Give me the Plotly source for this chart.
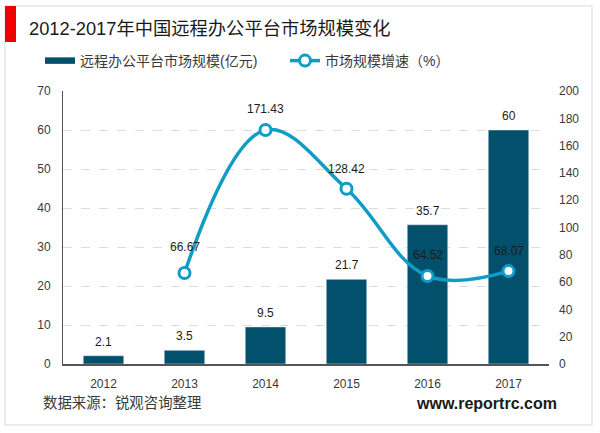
import plotly.graph_objs as go

WIDTH = 600
HEIGHT = 433
LEFT, RIGHT, TOP, BOTTOM = 63, 549, 91, 364

years = ["2012", "2013", "2014", "2015", "2016", "2017"]
scale_values = [2.1, 3.5, 9.5, 21.7, 35.7, 60]
growth_values = [None, 66.67, 171.43, 128.42, 64.52, 68.07]
scale_labels = ["2.1", "3.5", "9.5", "21.7", "35.7", "60"]
growth_labels = ["", "66.67", "171.43", "128.42", "64.52", "68.07"]
growth_label_shift = [0, 26, 21, 20, 21, 20]
left_ticks = [0, 10, 20, 30, 40, 50, 60, 70]
right_ticks = [0, 20, 40, 60, 80, 100, 120, 140, 160, 180, 200]

FONT = "Liberation Sans, Noto Sans CJK SC, sans-serif"
BAR_COLOR = "#02506b"
LINE_COLOR = "#0f9cc6"
TEXT_COLOR = "#3a3a3a"
LABEL_COLOR = "#1c1c1c"


def px(x):
    # pixel position to paper x
    return (x - LEFT) / (RIGHT - LEFT)


def py(y):
    # pixel position to paper y
    return (BOTTOM - y) / (BOTTOM - TOP)


def text_note(text, x, y, size, anchor="left", color=TEXT_COLOR):
    return dict(
        text=text,
        xref="paper",
        yref="paper",
        x=px(x),
        y=py(y),
        xanchor=anchor,
        yanchor="middle",
        showarrow=False,
        font=dict(size=size, color=color),
    )


fig = go.Figure()

fig.add_trace(
    go.Bar(
        x=years,
        y=scale_values,
        marker=dict(color=BAR_COLOR),
        width=0.5,
        showlegend=False,
    )
)

# legend key only, the bar's own swatch is too small
fig.add_trace(
    go.Scatter(
        x=years,
        y=[None] * len(years),
        name="远程办公平台市场规模(亿元)",
        mode="lines",
        line=dict(color=BAR_COLOR, width=6.5),
        legend="legend",
    )
)

fig.add_trace(
    go.Scatter(
        x=years,
        y=growth_values,
        name="市场规模增速（%）",
        yaxis="y2",
        mode="lines+markers",
        line=dict(color=LINE_COLOR, width=3.5, shape="spline", smoothing=1.1),
        marker=dict(size=11, color="white", line=dict(color=LINE_COLOR, width=3)),
        cliponaxis=False,
        legend="legend2",
    )
)

# data labels, x is the category index because year strings get read as numbers here
notes = []
for i, (value, label) in enumerate(zip(scale_values, scale_labels)):
    notes.append(
        dict(
            text=label,
            x=i,
            y=value,
            xref="x",
            yref="y",
            yshift=14,
            showarrow=False,
            font=dict(size=12, color=LABEL_COLOR),
        )
    )
for i, (value, label, shift) in enumerate(zip(growth_values, growth_labels, growth_label_shift)):
    if value is None:
        continue
    notes.append(
        dict(
            text=label,
            x=i,
            y=value,
            xref="x",
            yref="y2",
            yshift=shift,
            showarrow=False,
            font=dict(size=12, color=LABEL_COLOR),
        )
    )

notes.append(text_note("2012-2017年中国远程办公平台市场规模变化", 27, 29, 18.3, color="#1a1a1a"))
notes.append(text_note("数据来源：锐观咨询整理", 41, 403, 14.4))
notes.append(text_note("<b>www.reportrc.com</b>", 559, 403, 16, anchor="right", color="#1a1a1a"))

fig.update_layout(
    width=WIDTH,
    height=HEIGHT,
    margin=dict(l=LEFT, r=WIDTH - RIGHT, t=TOP, b=HEIGHT - BOTTOM, autoexpand=False),
    paper_bgcolor="white",
    plot_bgcolor="white",
    font=dict(family=FONT, size=12, color=TEXT_COLOR),
    showlegend=True,
    hovermode=False,
    xaxis=dict(
        type="category",
        categoryorder="array",
        categoryarray=years,
        range=[-0.5, 5.5],
        showline=True,
        linecolor="#555555",
        linewidth=2,
        ticks="",
        ticklabelstandoff=8,
        tickfont=dict(size=12),
    ),
    yaxis=dict(
        range=[0, 70],
        tickvals=left_ticks,
        showgrid=True,
        gridcolor="#dddddd",
        griddash="dash",
        gridwidth=1,
        showline=True,
        linecolor="#555555",
        linewidth=1,
        ticks="",
        zeroline=False,
        ticklabelstandoff=9,
        tickfont=dict(size=12),
    ),
    yaxis2=dict(
        range=[0, 200],
        tickvals=right_ticks,
        overlaying="y",
        side="right",
        showgrid=False,
        showline=False,
        ticks="",
        zeroline=False,
        ticklabelstandoff=9,
        tickfont=dict(size=12),
    ),
    legend=dict(
        x=px(40),
        y=py(61),
        xanchor="left",
        yanchor="middle",
        font=dict(size=14, color=TEXT_COLOR),
        itemwidth=30,
        bgcolor="rgba(0,0,0,0)",
    ),
    legend2=dict(
        x=px(285),
        y=py(61),
        xanchor="left",
        yanchor="middle",
        font=dict(size=14, color=TEXT_COLOR),
        itemwidth=30,
        bgcolor="rgba(0,0,0,0)",
    ),
    shapes=[
        # outer frame
        dict(
            type="rect",
            xref="paper",
            yref="paper",
            x0=px(5),
            x1=px(592),
            y0=py(6),
            y1=py(425),
            line=dict(color="#e6e6e6", width=1.5),
            layer="below",
        ),
        # red title block
        dict(
            type="rect",
            xref="paper",
            yref="paper",
            x0=px(5),
            x1=px(16),
            y0=py(6),
            y1=py(42),
            fillcolor="#f00000",
            line=dict(width=0),
        ),
    ],
    annotations=notes,
)

# the page's default body margin would push the figure 8px down and right
fig.write_html(
    "out.html",
    config={"displayModeBar": False},
    post_script="document.body.style.margin='0';",
)
